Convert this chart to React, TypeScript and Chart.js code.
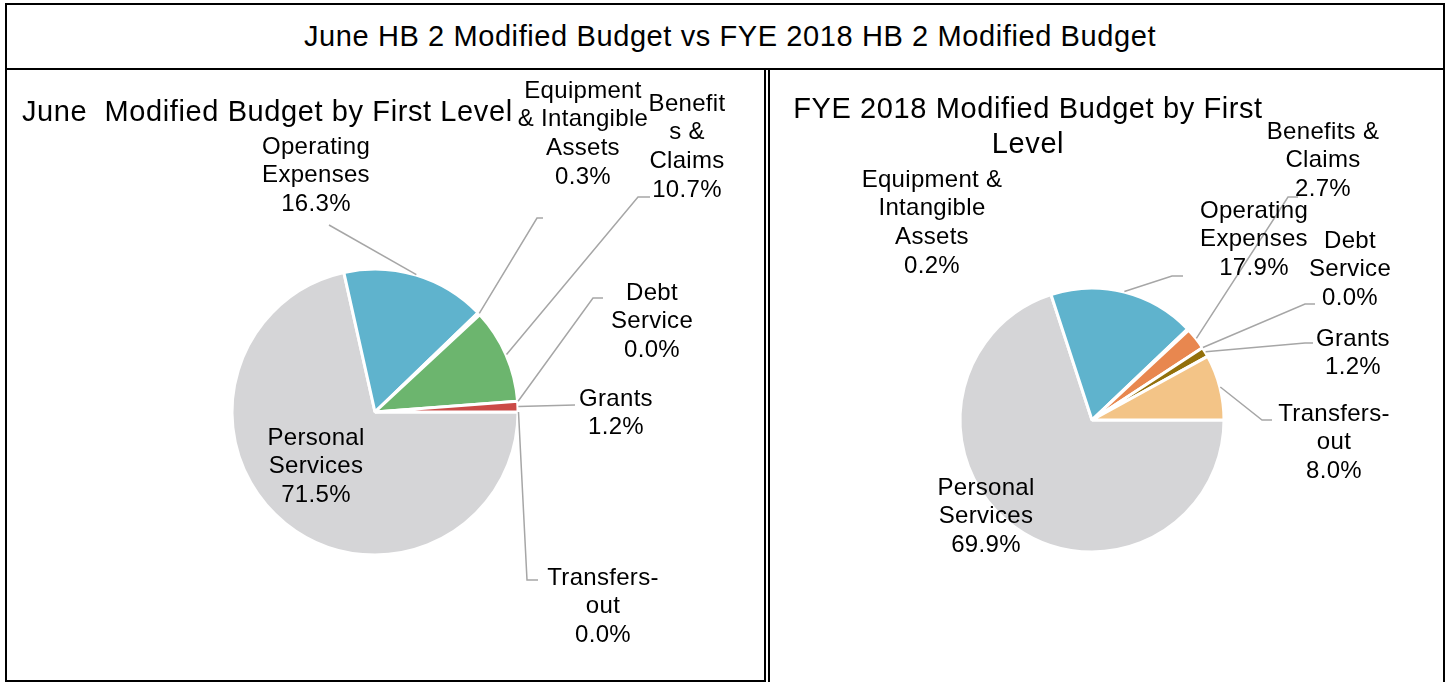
import { useEffect, useRef } from "react";
import { Chart, registerables } from "chart.js";

Chart.register(...registerables);

// ---------- data ----------
const categories = [
  "Personal Services",
  "Operating Expenses",
  "Equipment & Intangible Assets",
  "Benefits & Claims",
  "Debt Service",
  "Grants",
  "Transfers-out",
];
const juneValues = [71.5, 16.3, 0.3, 10.7, 0.0, 1.2, 0.0];
const fyeValues = [69.9, 17.9, 0.2, 2.7, 0.0, 1.2, 8.0];

const juneColors = ["#D5D5D7", "#5FB3CD", "#EE9A5A", "#6CB56E", "#8E6BB0", "#CB4A46", "#F3C487"];
const fyeColors = ["#D5D5D7", "#5FB3CD", "#6CB56E", "#E8874F", "#8E6BB0", "#93700B", "#F3C487"];

const mainTitle = "June HB 2 Modified Budget vs FYE 2018 HB 2 Modified Budget";
const juneTitle = ["June  Modified Budget by First Level"];
const fyeTitle = ["FYE 2018 Modified Budget by First", "Level"];

const juneLabelLines = [
  ["Personal", "Services"],
  ["Operating", "Expenses"],
  ["Equipment", "& Intangible", "Assets"],
  ["Benefit", "s &", "Claims"],
  ["Debt", "Service"],
  ["Grants"],
  ["Transfers-", "out"],
];
const fyeLabelLines = [
  ["Personal", "Services"],
  ["Operating", "Expenses"],
  ["Equipment &", "Intangible", "Assets"],
  ["Benefits &", "Claims"],
  ["Debt", "Service"],
  ["Grants"],
  ["Transfers-", "out"],
];

// ---------- layout (page coordinates) ----------
const W = 1447;
const H = 682;
type Pt = [number, number];
type LabelPos = { x: number; y: number; leader: Pt[] | null };
type Layout = {
  center: Pt;
  radius: number;
  title: { x: number; y: number; align: CanvasTextAlign; lh: number };
  labels: LabelPos[];
};

const juneLayout: Layout = {
  center: [375, 412],
  radius: 143,
  title: { x: 22, y: 113, align: "left", lh: 35 },
  labels: [
    { x: 316, y: 438, leader: null },
    { x: 316, y: 147, leader: [[329, 225]] },
    { x: 583, y: 91, leader: [[543, 218], [537, 218]] },
    { x: 687, y: 104, leader: [[650, 197], [638, 197]] },
    { x: 652, y: 293, leader: [[603, 298], [593, 298]] },
    { x: 616, y: 399, leader: [[575, 405]] },
    { x: 603, y: 578, leader: [[538, 580], [527, 580]] },
  ],
};

const fyeLayout: Layout = {
  center: [1092, 420],
  radius: 132,
  title: { x: 1028, y: 110, align: "center", lh: 35 },
  labels: [
    { x: 986, y: 488, leader: null },
    { x: 1254, y: 211, leader: [[1183, 276], [1172, 276]] },
    { x: 932, y: 180, leader: null },
    { x: 1323, y: 132, leader: [[1298, 197], [1288, 197]] },
    { x: 1350, y: 241, leader: [[1315, 304], [1305, 304]] },
    { x: 1353, y: 339, leader: [[1313, 343], [1305, 343]] },
    { x: 1334, y: 414, leader: [[1272, 420], [1262, 420]] },
  ],
};

const FONT = '"Liberation Sans", Arial, sans-serif';
const LABEL_LH = 28.8;

function makePlugin(titleLines: string[], labelLines: string[][], values: number[], layout: Layout) {
  return {
    id: "pieAnnotations",
    afterDraw(chart: any) {
      const ctx: CanvasRenderingContext2D = chart.ctx;
      const meta = chart.getDatasetMeta(0);
      ctx.save();
      // leader lines
      ctx.strokeStyle = "#A6A6A6";
      ctx.lineWidth = 1.5;
      layout.labels.forEach((lp, i) => {
        if (!lp.leader) return;
        const el = meta.data[i];
        const p = el.getProps(["x", "y", "startAngle", "endAngle", "outerRadius"], true);
        const mid = (p.startAngle + p.endAngle) / 2;
        const ax = p.x + Math.cos(mid) * (p.outerRadius + 0.5);
        const ay = p.y + Math.sin(mid) * (p.outerRadius + 0.5);
        ctx.beginPath();
        ctx.moveTo(lp.leader[0][0], lp.leader[0][1]);
        for (let k = 1; k < lp.leader.length; k++) ctx.lineTo(lp.leader[k][0], lp.leader[k][1]);
        ctx.lineTo(ax, ay);
        ctx.stroke();
      });
      // labels
      ctx.fillStyle = "#000";
      ctx.textBaseline = "middle";
      ctx.textAlign = "center";
      ctx.font = `24px ${FONT}`;
      (ctx as any).letterSpacing = "0.3px";
      layout.labels.forEach((lp, i) => {
        const lines = [...labelLines[i], values[i].toFixed(1) + "%"];
        lines.forEach((t, k) => ctx.fillText(t, lp.x, lp.y + k * LABEL_LH));
      });
      // title
      ctx.font = `29px ${FONT}`;
      (ctx as any).letterSpacing = "0.6px";
      ctx.textAlign = layout.title.align;
      titleLines.forEach((t, k) => ctx.fillText(t, layout.title.x, layout.title.y + k * layout.title.lh));
      ctx.restore();
    },
  };
}

function PieCanvas(props: {
  values: number[];
  colors: string[];
  titleLines: string[];
  labelLines: string[][];
  layout: Layout;
}) {
  const ref = useRef<HTMLCanvasElement>(null);
  useEffect(() => {
    if (!ref.current) return;
    const { values, colors, titleLines, labelLines, layout } = props;
    const half = layout.radius + 10;
    const [cx, cy] = layout.center;
    const chart = new Chart(ref.current, {
      type: "pie",
      data: {
        labels: categories,
        datasets: [
          {
            data: values,
            backgroundColor: colors,
            borderColor: "#FFFFFF",
            borderWidth: 3,
          },
        ],
      },
      options: {
        responsive: false,
        animation: false,
        devicePixelRatio: 1,
        rotation: 90,
        radius: layout.radius,
        layout: {
          padding: {
            left: cx - half,
            top: cy - half,
            right: W - cx - half,
            bottom: H - cy - half,
          },
        },
        events: [],
        plugins: {
          legend: { display: false },
          tooltip: { enabled: false },
          title: { display: false },
        },
      } as any,
      plugins: [makePlugin(titleLines, labelLines, values, layout)],
    });
    return () => chart.destroy();
  }, []);
  return (
    <canvas
      ref={ref}
      width={W}
      height={H}
      style={{ position: "absolute", left: 0, top: 0, width: W, height: H, pointerEvents: "none" }}
    />
  );
}

export default function App() {
  const box = (left: number, top: number, width: number, height: number): React.CSSProperties => ({
    position: "absolute",
    left,
    top,
    width,
    height,
    border: "2px solid #000",
    boxSizing: "border-box",
  });
  return (
    <div
      style={{
        position: "absolute",
        left: 0,
        top: 0,
        width: W,
        height: H,
        overflow: "hidden",
        background: "#fff",
      }}
    >
      <div style={box(5, 3, 1440, 67)} />
      <div style={box(5, 68, 761, 614)} />
      <div style={box(768, 68, 677, 640)} />
      <div
        style={{
          position: "absolute",
          left: 5,
          top: 3,
          width: 1440,
          height: 67,
          display: "flex",
          alignItems: "center",
          justifyContent: "center",
          fontFamily: FONT,
          fontSize: 29,
          letterSpacing: "0.6px",
          color: "#000",
          paddingLeft: 10,
          boxSizing: "border-box",
        }}
      >
        {mainTitle}
      </div>
      <PieCanvas values={juneValues} colors={juneColors} titleLines={juneTitle} labelLines={juneLabelLines} layout={juneLayout} />
      <PieCanvas values={fyeValues} colors={fyeColors} titleLines={fyeTitle} labelLines={fyeLabelLines} layout={fyeLayout} />
    </div>
  );
}
